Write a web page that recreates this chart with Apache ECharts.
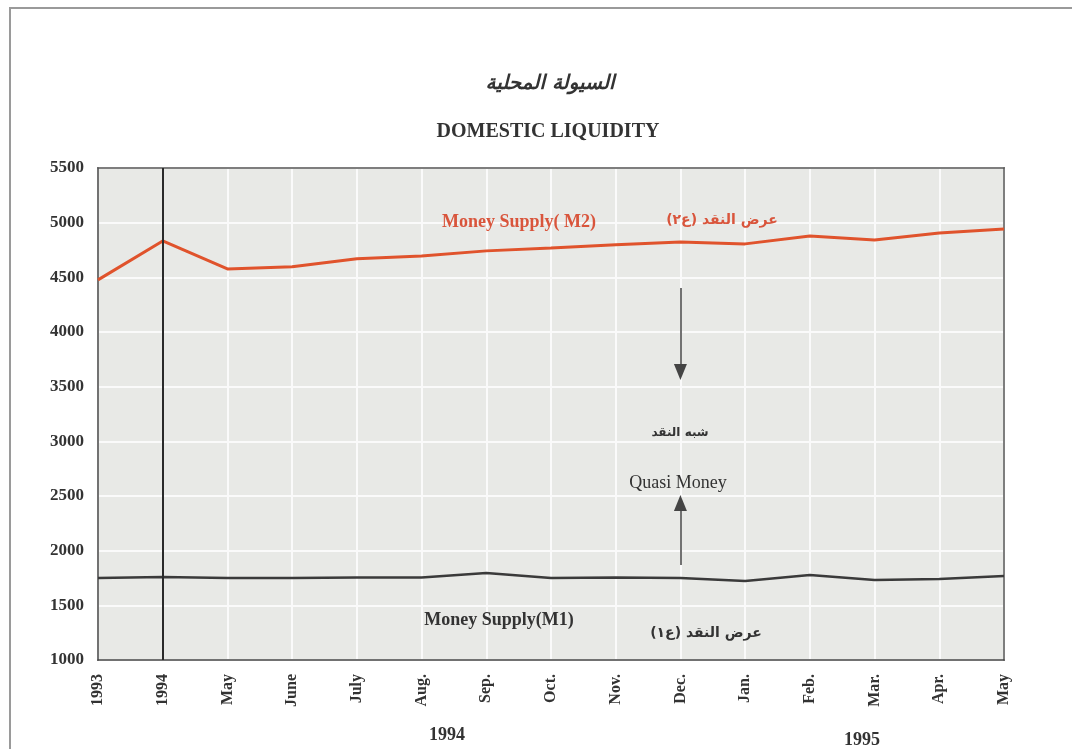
<!DOCTYPE html>
<html>
<head>
<meta charset="utf-8">
<title>Domestic Liquidity</title>
<script src="https://cdn.jsdelivr.net/npm/echarts@6/dist/echarts.min.js"></script>
<style>
  html, body { margin: 0; padding: 0; background: #fff; }
  #chart { width: 1072px; height: 749px; }
</style>
</head>
<body>
<div id="chart"></div>
<script>
// categories (end of 1993, end of 1994 Q1, then months of 1994 and 1995)
var months = ['1993', '1994', 'May', 'June', 'July', 'Aug.', 'Sep.', 'Oct.', 'Nov.', 'Dec.', 'Jan.', 'Feb.', 'Mar.', 'Apr.', 'May'];
// Money Supply (M2)
var m2 = [4477, 4833, 4577, 4596, 4669, 4696, 4742, 4769, 4797, 4824, 4806, 4879, 4842, 4906, 4943];
// Money Supply (M1)
var m1 = [1750, 1759, 1750, 1750, 1755, 1755, 1796, 1750, 1755, 1750, 1723, 1778, 1732, 1741, 1768];
// arrows marking quasi money (category index, from value, to value)
var downArrow = [9, 4403, 3635];
var upArrow = [9, 1869, 2436];

var serif = '"Liberation Serif", "DejaVu Serif", serif';
var arabic = '"DejaVu Sans", sans-serif';
var red = '#d9553c';
function rtl(s) { return '\u202B' + s + '\u202C'; }

var chart = echarts.init(document.getElementById('chart'));

function txt(x, y, text, font, fill) {
    return {
        type: 'text', x: x, y: y, z: 100,
        style: { text: text, font: font, fill: fill, textAlign: 'center', textVerticalAlign: 'middle' }
    };
}

var frameAxis = {
    axisLine: { show: true, lineStyle: { color: '#555', width: 1.5 } },
    axisTick: { show: false },
    axisLabel: { show: false },
    splitLine: { show: false }
};

var option = {
    backgroundColor: '#fff',
    animation: false,
    grid: {
        left: 98, right: 68, top: 168, bottom: 89,
        show: true,
        backgroundColor: '#e8e9e6',
        borderColor: '#555',
        borderWidth: 1.5
    },
    xAxis: [
        {
            type: 'category',
            data: months,
            boundaryGap: false,
            axisLine: { lineStyle: { color: '#444', width: 1.5 } },
            axisTick: { show: false },
            axisLabel: {
                rotate: 90, margin: 14, interval: 0,
                fontFamily: serif, fontWeight: 'bold', fontSize: 16, color: '#333'
            },
            splitLine: { show: true, lineStyle: { color: '#fafafa', width: 2 } }
        },
        Object.assign({ type: 'category', data: months, boundaryGap: false, position: 'top' }, frameAxis)
    ],
    yAxis: [
        {
            type: 'value',
            min: 1000, max: 5500, interval: 500,
            axisLine: { show: true, lineStyle: { color: '#444', width: 1.5 } },
            axisTick: { show: false },
            axisLabel: {
                margin: 14, fontFamily: serif, fontWeight: 'bold', fontSize: 17, color: '#333',
                formatter: function (v) { return String(v); }
            },
            splitLine: { lineStyle: { color: '#fafafa', width: 2 } }
        },
        Object.assign({ type: 'value', min: 1000, max: 5500, interval: 500, position: 'right' }, frameAxis)
    ],
    series: [
        {
            name: 'M2', type: 'line', data: m2,
            symbol: 'none',
            lineStyle: { color: '#e0532c', width: 3 }
        },
        {
            name: 'M1', type: 'line', data: m1,
            symbol: 'none',
            lineStyle: { color: '#3a3a3a', width: 2.5 },
            markLine: {
                silent: true,
                symbol: 'none',
                label: { show: false },
                lineStyle: { color: '#2a2a2a', width: 2, type: 'solid' },
                data: [
                    { xAxis: '1994' },
                    [
                        { coord: [downArrow[0], downArrow[1]], symbol: 'none' },
                        { coord: [downArrow[0], downArrow[2]], symbol: 'triangle', symbolSize: [13, 16],
                          lineStyle: { color: '#444', width: 1.5 } }
                    ],
                    [
                        { coord: [upArrow[0], upArrow[1]], symbol: 'none' },
                        { coord: [upArrow[0], upArrow[2]], symbol: 'triangle', symbolSize: [13, 16],
                          lineStyle: { color: '#444', width: 1.5 } }
                    ]
                ]
            }
        }
    ],
    graphic: [
        {
            type: 'rect', silent: true,
            shape: { x: 10, y: 8, width: 1100, height: 800 },
            style: { fill: null, stroke: '#9a9a9a', lineWidth: 2 }
        },
        txt(550, 84, rtl('السيولة المحلية'), 'italic bold 20px ' + arabic, '#333'),
        txt(548, 132, 'DOMESTIC LIQUIDITY', 'bold 20px ' + serif, '#333'),
        txt(519, 222, 'Money Supply( M2)', 'bold 18px ' + serif, red),
        txt(722, 220, rtl('عرض النقد (ع٢)'), 'bold 14px ' + arabic, red),
        txt(680, 433, rtl('شبه النقد'), 'bold 12px ' + arabic, '#333'),
        txt(678, 483, 'Quasi Money', '18px ' + serif, '#333'),
        txt(499, 620, 'Money Supply(M1)', 'bold 18px ' + serif, '#333'),
        txt(706, 633, rtl('عرض النقد (ع١)'), 'bold 14px ' + arabic, '#333'),
        txt(447, 735, '1994', 'bold 18px ' + serif, '#333'),
        txt(862, 740, '1995', 'bold 18px ' + serif, '#333')
    ]
};

chart.setOption(option);
</script>
</body>
</html>
